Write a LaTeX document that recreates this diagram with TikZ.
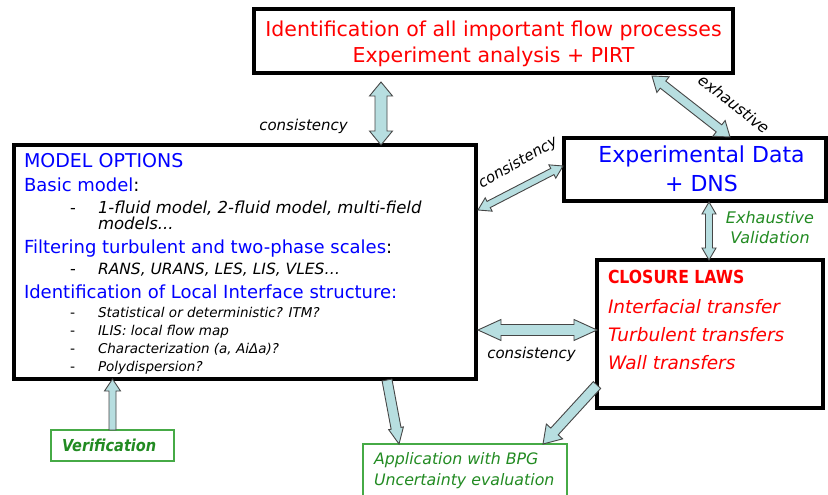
\documentclass[tikz,border=0pt]{standalone}
\usepackage{fontspec}
\setmainfont{DejaVu Sans}
\usetikzlibrary{calc}
\definecolor{myred}{RGB}{255,0,0}
\definecolor{myblue}{RGB}{0,0,255}
\definecolor{mygreen}{RGB}{34,139,34}
\definecolor{boxgreen}{RGB}{70,170,70}
\definecolor{arrfill}{RGB}{183,222,224}
\definecolor{arrline}{RGB}{70,70,70}
\newcommand\fs[1]{\fontsize{#1}{#1}\selectfont}
% double block arrow: A, B, shaft half width, head half width, head length
\newcommand\dblarr[5]{%
 \draw[blockarr] (#1)
  -- ($(#1)!#5!(#2)!#4!90:(#2)$)
  -- ($(#1)!#5!(#2)!#3!90:(#2)$)
  -- ($(#2)!#5!(#1)!#3!-90:(#1)$)
  -- ($(#2)!#5!(#1)!#4!-90:(#1)$)
  -- (#2)
  -- ($(#2)!#5!(#1)!#4!90:(#1)$)
  -- ($(#2)!#5!(#1)!#3!90:(#1)$)
  -- ($(#1)!#5!(#2)!#3!-90:(#2)$)
  -- ($(#1)!#5!(#2)!#4!-90:(#2)$)
  -- cycle;}
% single block arrow, tip at B
\newcommand\sglarr[5]{%
 \draw[blockarr] ($(#1)!#3!90:(#2)$)
  -- ($(#2)!#5!(#1)!#3!-90:(#1)$)
  -- ($(#2)!#5!(#1)!#4!-90:(#1)$)
  -- (#2)
  -- ($(#2)!#5!(#1)!#4!90:(#1)$)
  -- ($(#2)!#5!(#1)!#3!90:(#1)$)
  -- ($(#1)!#3!-90:(#2)$)
  -- cycle;}
\begin{document}
\begin{tikzpicture}[x=1pt,y=-1pt,
  thickbox/.style={draw=black, line width=3.2pt, fill=white, inner sep=0, outer sep=0, anchor=north west},
  greenbox/.style={draw=boxgreen, line width=1.3pt, fill=white, inner sep=0, outer sep=0, anchor=north west},
  blockarr/.style={draw=arrline, line width=0.9pt, fill=arrfill, line join=miter},
  txt/.style={inner sep=0, outer sep=0, anchor=base west},
  ctxt/.style={inner sep=0, outer sep=0, anchor=base},
  hd/.style={txt, font=\fs{18}, text=myblue},
  itm/.style={txt, font=\fs{16.5}\itshape, text=black},
  sitm/.style={txt, font=\fs{13.5}\itshape, text=black},
  dashtxt/.style={txt, font=\fs{16}, text=black},
  clostxt/.style={txt, font=\fs{18.5}\itshape, text=myred},
  lab/.style={inner sep=0, outer sep=0, font=\fs{15}\itshape, text=black}
]
\useasboundingbox (0,0) rectangle (828,495);
\fill[white] (0,0) rectangle (828,495);

% boxes
\node[thickbox, minimum width=479pt, minimum height=64pt] (top) at (254,9) {};
\node[thickbox, minimum width=462pt, minimum height=234pt] (model) at (14,145) {};
\node[thickbox, minimum width=262pt, minimum height=63pt] (exp) at (564,138) {};
\node[thickbox, minimum width=226pt, minimum height=148pt] (clos) at (597,260) {};
\node[greenbox, minimum width=123pt, minimum height=31pt] (verif) at (51,430) {};
\node[greenbox, minimum width=204pt, minimum height=60pt] (appl) at (363,444) {};

% top box text
\node[ctxt, font=\fs{20.5}, text=myred] (t1) at (493.5,37) {Identification of all important flow processes};
\node[ctxt, font=\fs{20.5}, text=myred] (t2) at (493.5,63) {Experiment analysis + PIRT};

% model options text
\node[hd, font=\fs{19}] (m0) at (24,167) {MODEL OPTIONS};
\node[hd, text=black] (m1) at (24,191) {\textcolor{myblue}{Basic model}:};
\node[dashtxt] (m1d) at (70,213) {-};
\node[itm] (m1a) at (98,213) {1-fluid model, 2-fluid model, multi-field};
\node[itm] (m1b) at (98,229) {models...};
\node[hd, text=black] (m2) at (24,253) {\textcolor{myblue}{Filtering turbulent and two-phase scales}:};
\node[dashtxt] (m2d) at (70,274) {-};
\node[itm, font=\fs{15.5}\itshape] (m2a) at (98,274) {RANS, URANS, LES, LIS, VLES…};
\node[hd] (m3) at (24,298) {Identification of Local Interface structure:};
\node[dashtxt, font=\fs{14}] (m3d1) at (70,317) {-};
\node[sitm] (m3a) at (98,317) {Statistical or deterministic? ITM?};
\node[dashtxt, font=\fs{14}] (m3d2) at (70,335) {-};
\node[sitm] (m3b) at (98,335) {ILIS: local flow map};
\node[dashtxt, font=\fs{14}] (m3d3) at (70,353) {-};
\node[sitm] (m3c) at (98,353) {Characterization (a, AiΔa)?};
\node[dashtxt, font=\fs{14}] (m3d4) at (70,371) {-};
\node[sitm] (m3e) at (98,371) {Polydispersion?};

% experimental data text
\node[ctxt, font=\fs{22}, text=myblue] (e1) at (701.5,162) {Experimental Data};
\node[ctxt, font=\fs{22}, text=myblue] (e2) at (701.5,191) {+ DNS};

% closure laws text
\node[txt, font=\fs{18}\bfseries, text=myred, xscale=0.87, transform shape] (c0) at (608,283) {CLOSURE LAWS};
\node[clostxt] (c1) at (608,313) {Interfacial transfer};
\node[clostxt] (c2) at (608,341) {Turbulent transfers};
\node[clostxt] (c3) at (608,369) {Wall transfers};

% green boxes text
\node[txt, font=\fs{16.5}\bfseries\itshape, text=mygreen, xscale=0.88, transform shape] (v1) at (62,451) {Verification};
\node[txt, font=\fs{15.8}\itshape, text=mygreen] (a1) at (374,464) {Application with BPG};
\node[txt, font=\fs{15.8}\itshape, text=mygreen] (a2) at (374,485) {Uncertainty evaluation};

% arrow end points
\coordinate (p1a) at ($(top.south west)+(127,9)$);
\coordinate (p1b) at (p1a |- model.north);
\coordinate (p2a) at ($(top.south west)+(398,3)$);
\coordinate (p2b) at ($(exp.north west)+(166,-1)$);
\coordinate (p3a) at ($(model.north east)+(2,65)$);
\coordinate (p3b) at ($(exp.west)+(-1,-3.5)$);
\coordinate (p4b) at ($(clos.west)+(0,-4)$);
\coordinate (p4a) at ($(model.east |- p4b)+(2,0)$);
\coordinate (p5a) at ($(exp.south)+(14,1)$);
\coordinate (p5b) at (p5a |- clos.north);
\coordinate (p6a) at (verif.north);
\coordinate (p6b) at (verif.north |- model.south);
\coordinate (p7a) at ($(model.south west)+(373,1)$);
\coordinate (p7b) at ($(appl.north west)+(36,0)$);
\coordinate (p8a) at ($(clos.south west)+(0,-23)$);
\coordinate (p8b) at ($(appl.north east)+(-24,0)$);

% arrows
\dblarr{p1a}{p1b}{6pt}{11.5pt}{14pt}
\dblarr{p2a}{p2b}{4.5pt}{10pt}{14pt}
\dblarr{p3a}{p3b}{3.5pt}{7.5pt}{12pt}
\dblarr{p4a}{p4b}{5.5pt}{10.5pt}{23pt}
\dblarr{p5a}{p5b}{3.5pt}{7pt}{12pt}
\sglarr{p6a}{p6b}{3.5pt}{8pt}{12pt}
\sglarr{p7a}{p7b}{5pt}{7.5pt}{16pt}
\sglarr{p8a}{p8b}{5pt}{11pt}{17pt}

% arrow labels
\node[lab, anchor=base] (l1) at (303.5,130) {consistency};
\node[lab, anchor=base] (l2) at (531.5,358) {consistency};
\node[lab, rotate=30] (l3) at (518,163) {consistency};
\node[lab, font=\fs{15.5}\itshape, rotate=-38] (l4) at (734,104) {exhaustive};
\node[ctxt, font=\fs{16}\itshape, text=mygreen] (l5) at (770,223) {Exhaustive};
\node[ctxt, font=\fs{16}\itshape, text=mygreen] (l6) at (770,243) {Validation};
\end{tikzpicture}
\end{document}
